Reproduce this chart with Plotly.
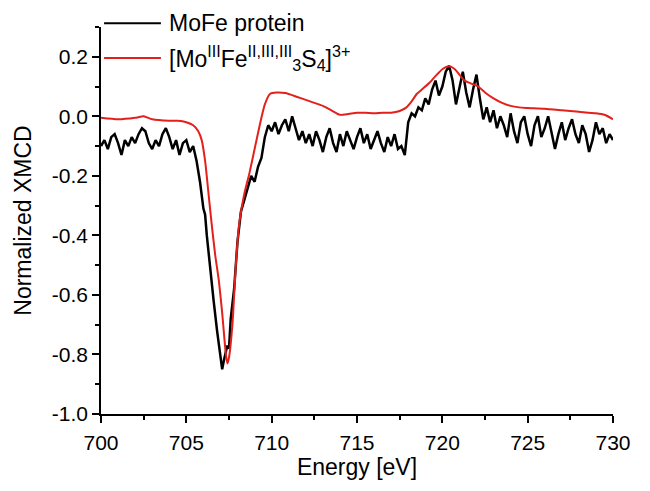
import plotly.graph_objects as go

# ---- data: MoFe protein (black, noisy) ----
mofe_energy = [
    700.0, 700.2, 700.4, 700.6, 700.8, 701.0, 701.2, 701.4, 701.6, 701.8,
    702.0, 702.2, 702.4, 702.6, 702.8, 703.0, 703.2, 703.4, 703.6, 703.8,
    704.0, 704.2, 704.4, 704.6, 704.8, 705.0, 705.2, 705.4, 705.6, 705.8,
    706.0, 706.1, 706.2, 706.4, 706.6, 706.8, 707.0, 707.1, 707.2, 707.4,
    707.5, 707.6, 707.8, 708.0, 708.2, 708.4, 708.6, 708.8, 709.0, 709.2,
    709.4, 709.6, 709.8, 710.0, 710.2, 710.4, 710.6, 710.8, 711.0, 711.2,
    711.4, 711.6, 711.8, 712.0, 712.2, 712.4, 712.6, 712.8, 713.0, 713.2,
    713.4, 713.6, 713.8, 714.0, 714.2, 714.4, 714.6, 714.8, 715.0, 715.2,
    715.4, 715.6, 715.8, 716.0, 716.2, 716.4, 716.6, 716.8, 717.0, 717.2,
    717.4, 717.6, 717.8, 718.0, 718.2, 718.4, 718.6, 718.8, 719.0, 719.2,
    719.4, 719.6, 719.8, 720.0, 720.2, 720.4, 720.6, 720.8, 721.0, 721.2,
    721.4, 721.6, 721.8, 722.0, 722.2, 722.4, 722.6, 722.8, 723.0, 723.2,
    723.4, 723.6, 723.8, 724.0, 724.2, 724.4, 724.6, 724.8, 725.0, 725.2,
    725.4, 725.6, 725.8, 726.0, 726.2, 726.4, 726.6, 726.8, 727.0, 727.2,
    727.4, 727.6, 727.8, 728.0, 728.2, 728.4, 728.6, 728.8, 729.0, 729.2,
    729.4, 729.6, 729.8, 730.0,
]
mofe_xmcd = [
    -0.10, -0.08, -0.11, -0.07, -0.06, -0.09, -0.13, -0.08, -0.10, -0.07,
    -0.09, -0.06, -0.04, -0.05, -0.09, -0.11, -0.08, -0.10, -0.06, -0.04,
    -0.07, -0.11, -0.08, -0.13, -0.09, -0.08, -0.12, -0.10, -0.15, -0.22,
    -0.31, -0.33, -0.40, -0.52, -0.62, -0.72, -0.81, -0.85, -0.82, -0.77,
    -0.78, -0.68, -0.58, -0.42, -0.32, -0.28, -0.24, -0.20, -0.22, -0.17,
    -0.14, -0.07, -0.03, -0.05, -0.02, -0.06, -0.03, -0.01, -0.05, 0.00,
    -0.04, -0.08, -0.05, -0.09, -0.06, -0.10, -0.05, -0.08, -0.12, -0.07,
    -0.04, -0.09, -0.12, -0.06, -0.10, -0.05, -0.08, -0.11, -0.07, -0.04,
    -0.09, -0.06, -0.11, -0.08, -0.05, -0.09, -0.12, -0.07, -0.10, -0.06,
    -0.11, -0.10, -0.13, -0.02, 0.01, 0.00, 0.03, 0.02, 0.06, 0.04,
    0.09, 0.12, 0.07, 0.10, 0.15, 0.17, 0.12, 0.04, 0.10, 0.15,
    0.08, 0.03, 0.09, 0.14, 0.06, -0.01, 0.03, -0.02, 0.02, -0.04,
    0.00, -0.03, -0.07, 0.01, -0.05, -0.09, -0.02, 0.00, -0.06, -0.10,
    -0.03, 0.00, -0.07, -0.04, 0.00, -0.05, -0.11, -0.06, -0.02, -0.08,
    -0.04, -0.01, -0.06, -0.09, -0.03, -0.06, -0.12, -0.08, -0.02, -0.06,
    -0.04, -0.09, -0.06, -0.08,
]

# ---- data: [Mo(III)Fe3S4]3+ model (red, smooth) ----
model_energy = [
    700.0, 701.0, 702.0, 702.5, 703.0, 704.0, 704.5, 705.0, 705.4, 705.7,
    705.9, 706.1, 706.3, 706.5, 706.7, 706.9, 707.1, 707.3, 707.4, 707.5,
    707.7, 707.9, 708.1, 708.4, 708.7, 709.0, 709.3, 709.6, 709.9, 710.3,
    710.8, 711.5, 712.0, 712.5, 713.0, 713.5, 714.0, 714.5, 715.0, 715.5,
    716.0, 716.5, 717.0, 717.5, 717.9, 718.2, 718.5, 718.8, 719.2, 719.6,
    720.0, 720.4, 720.7, 721.0, 721.3, 721.7, 722.1, 722.5, 723.0, 723.5,
    724.0, 724.5, 725.0, 726.0, 727.0, 728.0, 729.0, 729.5, 730.0,
]
model_xmcd = [
    -0.005, -0.010, -0.005, 0.000, -0.010, -0.015, -0.015, -0.020, -0.030, -0.050,
    -0.080, -0.150, -0.260, -0.370, -0.470, -0.550, -0.660, -0.790, -0.830, -0.810,
    -0.700, -0.500, -0.360, -0.260, -0.190, -0.110, -0.030, 0.040, 0.075, 0.080,
    0.078, 0.065, 0.055, 0.045, 0.035, 0.020, 0.005, 0.008, 0.012, 0.012,
    0.010, 0.012, 0.012, 0.018, 0.030, 0.050, 0.075, 0.090, 0.110, 0.135,
    0.158, 0.168, 0.160, 0.140, 0.120, 0.110, 0.100, 0.080, 0.060, 0.045,
    0.035, 0.030, 0.028, 0.025, 0.020, 0.015, 0.010, 0.005, -0.010,
]

series_names = [
    "MoFe protein",
    "[Mo<sup>III</sup>Fe<sup>II,III,III</sup><sub>3</sub>S<sub>4</sub>]<sup>3+</sup>",
]
series_colors = ["#000000", "#e3201b"]
series_widths = [2.5, 2]

x_ticks = [700, 705, 710, 715, 720, 725, 730]
y_ticks = [-1.0, -0.8, -0.6, -0.4, -0.2, 0.0, 0.2]

FONT = "Liberation Sans, Arial, sans-serif"

fig = go.Figure()
fig.add_trace(go.Scatter(x=mofe_energy, y=mofe_xmcd, mode="lines",
                         line=dict(color=series_colors[0], width=series_widths[0]),
                         name=series_names[0], showlegend=False))
fig.add_trace(go.Scatter(x=model_energy, y=model_xmcd, mode="lines",
                         line=dict(color=series_colors[1], width=series_widths[1],
                                   shape="spline", smoothing=0.6),
                         name=series_names[1], showlegend=False))

# manual legend (long line samples like the original)
leg_y = [1.010, 0.920]
for i in range(2):
    fig.add_shape(type="line", xref="paper", yref="paper",
                  x0=0.006, x1=0.117, y0=leg_y[i], y1=leg_y[i],
                  line=dict(color=series_colors[i], width=2))
    fig.add_annotation(xref="paper", yref="paper", x=0.128, y=leg_y[i],
                       text=series_names[i], showarrow=False,
                       xanchor="left", yanchor="middle",
                       font=dict(family=FONT, size=23, color="#000000"))

fig.update_layout(
    width=650, height=491,
    margin=dict(l=93, r=45, t=19, b=85),
    paper_bgcolor="white", plot_bgcolor="white",
    font=dict(family=FONT, color="#000000"),
)
fig.update_xaxes(
    range=[700, 730], tickvals=x_ticks, ticktext=[str(v) for v in x_ticks],
    automargin=False,
    showgrid=False, zeroline=False, showline=True, linecolor="black", linewidth=1.5,
    ticks="outside", ticklen=7, tickwidth=1.5, tickcolor="black",
    minor=dict(dtick=2.5, tick0=700, ticks="outside", ticklen=4, tickwidth=1.5,
               tickcolor="black", showgrid=False),
    tickfont=dict(family=FONT, size=21), ticklabelstandoff=2,
    title=dict(text="Energy [eV]", font=dict(family=FONT, size=23), standoff=6),
)
fig.update_yaxes(
    range=[-1.0, 0.3], tickvals=y_ticks, ticktext=[f"{v:.1f}" for v in y_ticks],
    automargin=False,
    showgrid=False, zeroline=False, showline=True, linecolor="black", linewidth=1.5,
    ticks="outside", ticklen=7, tickwidth=1.5, tickcolor="black",
    minor=dict(dtick=0.1, tick0=-1.0, ticks="outside", ticklen=4, tickwidth=1.5,
               tickcolor="black", showgrid=False),
    tickfont=dict(family=FONT, size=21),
    title=dict(text="Normalized XMCD", font=dict(family=FONT, size=23), standoff=14),
)

fig.write_html("out.html")
